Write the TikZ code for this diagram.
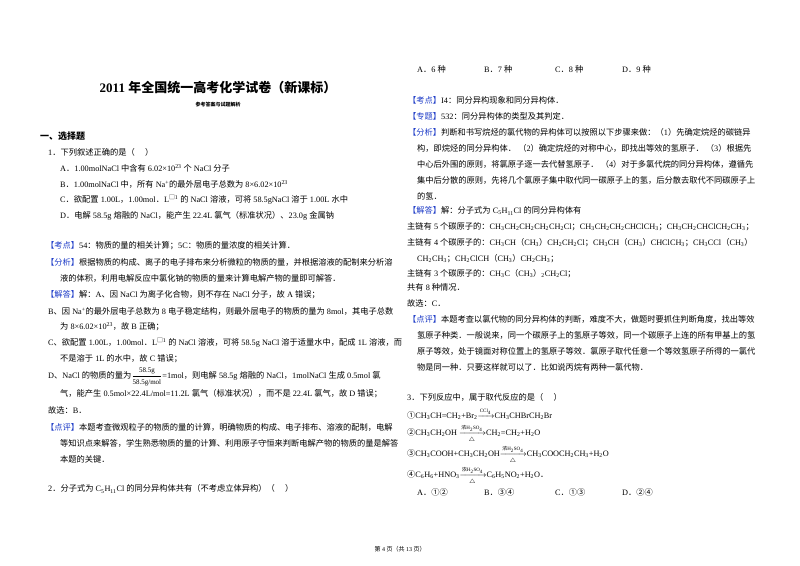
\documentclass[tikz,border=0pt]{standalone}
\usepackage{amsmath,amssymb}
\usepackage{fontspec}
\setmainfont{Liberation Serif}
\newfontfamily\cjk{Noto Sans CJK SC}
\XeTeXinterchartokenstate=1
\newXeTeXintercharclass\cjkclass
\count255="3000
\loop \XeTeXcharclass\count255=\cjkclass \advance\count255 1 \ifnum\count255<"A000 \repeat
\count255="FF00
\loop \XeTeXcharclass\count255=\cjkclass \advance\count255 1 \ifnum\count255<"FFF0 \repeat
\count255="2460
\loop \XeTeXcharclass\count255=\cjkclass \advance\count255 1 \ifnum\count255<"2500 \repeat
\XeTeXcharclass"25A1=\cjkclass
\XeTeXinterchartoks 0 \cjkclass = {\begingroup\cjk}
\XeTeXinterchartoks 4095 \cjkclass = {\begingroup\cjk}
\XeTeXinterchartoks \cjkclass 0 = {\endgroup}
\XeTeXinterchartoks \cjkclass 4095 = {\endgroup}
\definecolor{lblue}{RGB}{30,60,200}
\newcommand{\lb}[1]{{\color{lblue}【#1】}}
\newcommand{\sbs}[1]{\textsubscript{#1}}
\newcommand{\sps}[1]{\textsuperscript{#1}}
\tikzset{txt/.style={anchor=west,inner sep=0pt,font=\fontsize{8.25}{9}\selectfont},
 ttl/.style={inner sep=0pt}}
\begin{document}
\begin{tikzpicture}[x=1pt,y=-1pt]
\useasboundingbox[fill=white] (0,0) rectangle (800,565);
\node[ttl,font=\fontsize{13}{13}\selectfont\bfseries] (title) at (218,88) {2011 年全国统一高考化学试卷（新课标）};
\node[ttl,font=\fontsize{5}{5}\selectfont\bfseries] (sub) at (218,105) {参考答案与试题解析};
\node[ttl,font=\fontsize{6}{6}\selectfont] (foot) at (400,549) {第 4 页（共 13 页）};
% left column
\node[txt,font=\fontsize{9}{9}\selectfont\bfseries] (s1) at (40,136) {一、选择题};
\node[txt] (q1) at (48,152) {1．下列叙述正确的是（\quad\ ）};
\node[txt] (q1a) at (60,168) {A．1.00molNaCl 中含有 6.02×10\sps{23} 个 NaCl 分子};
\node[txt] (q1b) at (60,184) {B．1.00molNaCl 中，所有 Na\sps{+}的最外层电子总数为 8×6.02×10\sps{23}};
\node[txt] (q1c) at (60,200) {C．欲配置 1.00L，1.00mol．L\sps{□1} 的 NaCl 溶液，可将 58.5gNaCl 溶于 1.00L 水中};
\node[txt] (q1d) at (60,216) {D．电解 58.5g 熔融的 NaCl，能产生 22.4L 氯气（标准状况）、23.0g 金属钠};
\node[txt] (l1) at (46,246) {\lb{考点}54：物质的量的相关计算；5C：物质的量浓度的相关计算．};
\node[txt] (l2) at (46,262) {\lb{分析}根据物质的构成、离子的电子排布来分析微粒的物质的量，并根据溶液的配制来分析溶};
\node[txt] (l3) at (60,278) {液的体积，利用电解反应中氯化钠的物质的量来计算电解产物的量即可解答．};
\node[txt] (l4) at (46,295) {\lb{解答}解：A、因 NaCl 为离子化合物，则不存在 NaCl 分子，故 A 错误；};
\node[txt] (l5) at (48,311) {B、因 Na\sps{+}的最外层电子总数为 8 电子稳定结构，则最外层电子的物质的量为 8mol，其电子总数};
\node[txt] (l6) at (60,327) {为 8×6.02×10\sps{23}，故 B 正确；};
\node[txt] (l7) at (48,343) {C、欲配置 1.00L，1.00mol．L\sps{□1} 的 NaCl 溶液，可将 58.5g NaCl 溶于适量水中，配成 1L 溶液，而};
\node[txt] (l8) at (60,359) {不是溶于 1L 的水中，故 C 错误；};
\node[txt] (l9) at (48,377) {D、NaCl 的物质的量为$\dfrac{\text{\fontsize{7}{7}\selectfont 58.5g}}{\text{\fontsize{7}{7}\selectfont 58.5g/mol}}$=1mol，则电解 58.5g 熔融的 NaCl，1molNaCl 生成 0.5mol 氯};
\node[txt] (l10) at (60,394) {气，能产生 0.5mol×22.4L/mol=11.2L 氯气（标准状况），而不是 22.4L 氯气，故 D 错误；};
\node[txt] (l11) at (48,410) {故选：B．};
\node[txt] (l12) at (46,427) {\lb{点评}本题考查微观粒子的物质的量的计算，明确物质的构成、电子排布、溶液的配制，电解};
\node[txt] (l13) at (60,443) {等知识点来解答，学生熟悉物质的量的计算、利用原子守恒来判断电解产物的物质的量是解答};
\node[txt] (l14) at (60,459) {本题的关键．};
\node[txt] (q2) at (48,489) {2．分子式为 C\sbs{5}H\sbs{11}Cl 的同分异构体共有（不考虑立体异构）（\quad\ ）};
% right column
\node[txt] (q2a) at (417,69) {A．6 种};
\node[txt] (q2b) at (484,69) {B．7 种};
\node[txt] (q2c) at (555,69) {C．8 种};
\node[txt] (q2d) at (622,69) {D．9 种};
\node[txt] (r1) at (408,100) {\lb{考点}I4：同分异构现象和同分异构体．};
\node[txt] (r2) at (408,116) {\lb{专题}532：同分异构体的类型及其判定．};
\node[txt] (r3) at (408,132) {\lb{分析}判断和书写烷烃的氯代物的异构体可以按照以下步骤来做：（1）先确定烷烃的碳链异};
\node[txt] (r4) at (417,148) {构，即烷烃的同分异构体．\ （2）确定烷烃的对称中心，即找出等效的氢原子．\ （3）根据先};
\node[txt] (r5) at (417,164) {中心后外围的原则，将氯原子逐一去代替氢原子．\ （4）对于多氯代烷的同分异构体，遵循先};
\node[txt] (r6) at (417,180) {集中后分散的原则，先将几个氯原子集中取代同一碳原子上的氢，后分散去取代不同碳原子上};
\node[txt] (r7) at (417,196) {的氢．};
\node[txt] (r8) at (408,211) {\lb{解答}解：分子式为 C\sbs{5}H\sbs{11}Cl 的同分异构体有};
\node[txt] (r9) at (407,227) {主链有 5 个碳原子的：CH\sbs{3}CH\sbs{2}CH\sbs{2}CH\sbs{2}CH\sbs{2}Cl；CH\sbs{3}CH\sbs{2}CH\sbs{2}CHClCH\sbs{3}；CH\sbs{3}CH\sbs{2}CHClCH\sbs{2}CH\sbs{3}；};
\node[txt] (r10) at (407,243) {主链有 4 个碳原子的：CH\sbs{3}CH（CH\sbs{3}）CH\sbs{2}CH\sbs{2}Cl；CH\sbs{3}CH（CH\sbs{3}）CHClCH\sbs{3}；CH\sbs{3}CCl（CH\sbs{3}）};
\node[txt] (r11) at (417,259) {CH\sbs{2}CH\sbs{3}；CH\sbs{2}ClCH（CH\sbs{3}）CH\sbs{2}CH\sbs{3}；};
\node[txt] (r12) at (407,274) {主链有 3 个碳原子的：CH\sbs{3}C（CH\sbs{3}）\sbs{2}CH\sbs{2}Cl；};
\node[txt] (r13) at (407,287) {共有 8 种情况．};
\node[txt] (r14) at (407,303) {故选：C．};
\node[txt] (r15) at (408,319) {\lb{点评}本题考查以氯代物的同分异构体的判断，难度不大，做题时要抓住判断角度，找出等效};
\node[txt] (r16) at (417,335) {氢原子种类．一般说来，同一个碳原子上的氢原子等效，同一个碳原子上连的所有甲基上的氢};
\node[txt] (r17) at (417,351) {原子等效，处于镜面对称位置上的氢原子等效．氯原子取代任意一个等效氢原子所得的一氯代};
\node[txt] (r18) at (417,367) {物是同一种．只要这样就可以了．比如说丙烷有两种一氯代物．};
\node[txt] (q3) at (407,397) {3．下列反应中，属于取代反应的是（\quad\ ）};
\node[txt] (q3r1) at (407,414) {①CH\sbs{3}CH=CH\sbs{2}+Br\sbs{2}$\xrightarrow{\text{\fontsize{5}{5}\selectfont CCl\sbs{4}}}$CH\sbs{3}CHBrCH\sbs{2}Br};
\node[txt] (q3r2) at (407,434) {②CH\sbs{3}CH\sbs{2}OH\ $\xrightarrow[\triangle]{\text{\fontsize{5}{5}\selectfont 浓H\sbs{2}SO\sbs{4}}}$CH\sbs{2}=CH\sbs{2}+H\sbs{2}O};
\node[txt] (q3r3) at (407,455) {③CH\sbs{3}COOH+CH\sbs{3}CH\sbs{2}OH$\xrightarrow[\triangle]{\text{\fontsize{5}{5}\selectfont 浓H\sbs{2}SO\sbs{4}}}$CH\sbs{3}COOCH\sbs{2}CH\sbs{3}+H\sbs{2}O};
\node[txt] (q3r4) at (407,476) {④C\sbs{6}H\sbs{6}+HNO\sbs{3}$\xrightarrow[\triangle]{\text{\fontsize{5}{5}\selectfont 浓H\sbs{2}SO\sbs{4}}}$C\sbs{6}H\sbs{5}NO\sbs{2}+H\sbs{2}O．};
\node[txt] (q3a) at (417,492) {A．①②};
\node[txt] (q3b) at (484,492) {B．③④};
\node[txt] (q3c) at (555,492) {C．①③};
\node[txt] (q3d) at (622,492) {D．②④};
\end{tikzpicture}
\end{document}
